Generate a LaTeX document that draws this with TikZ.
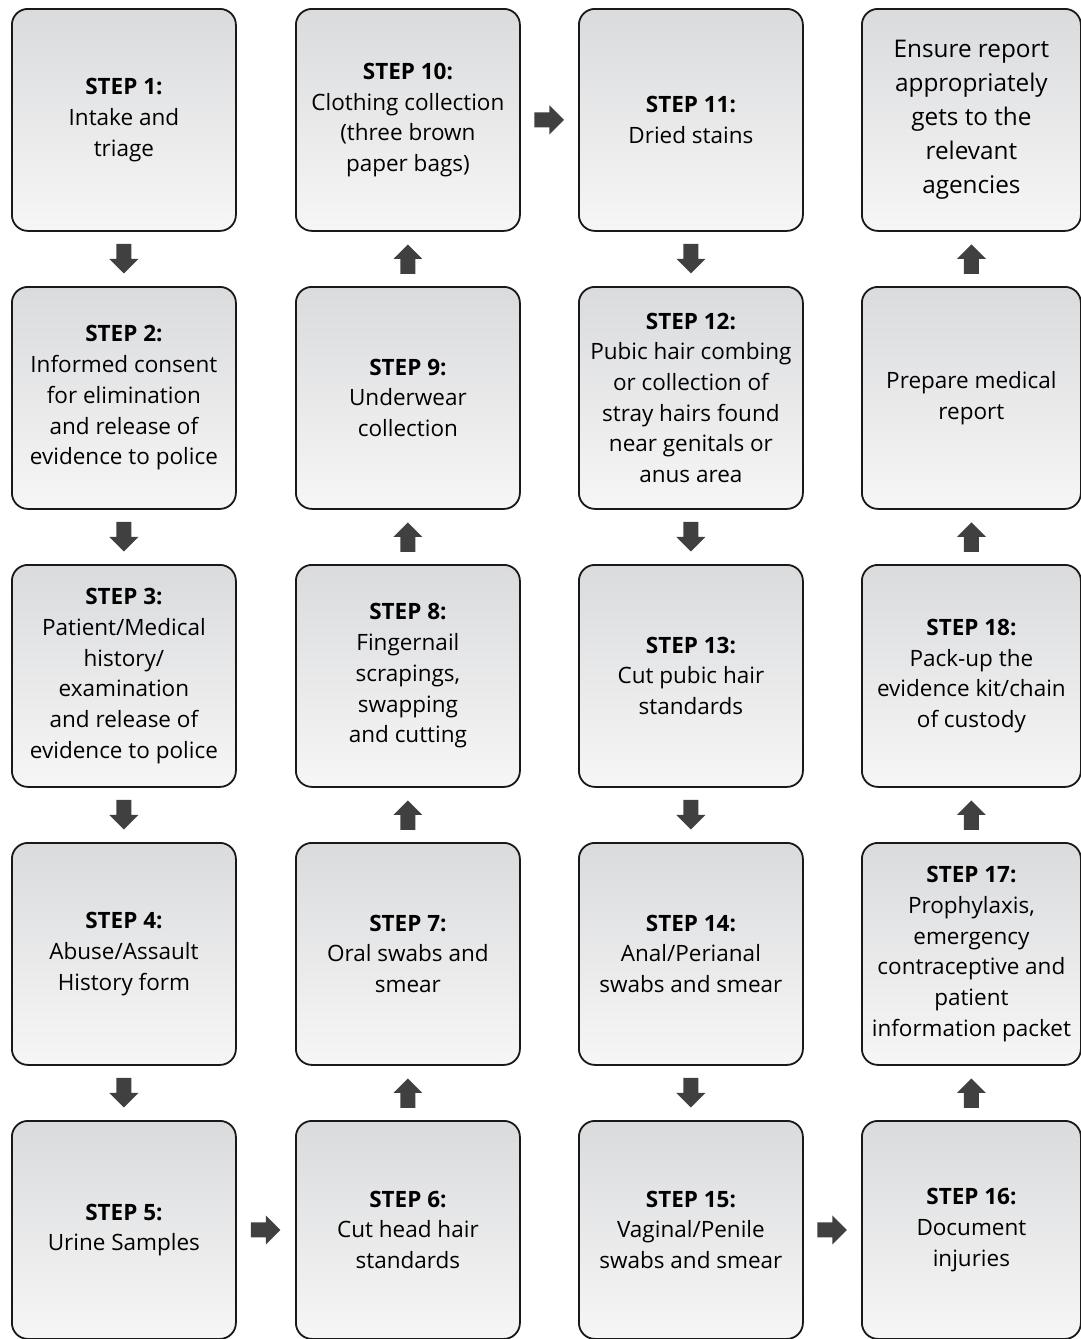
\documentclass[tikz,border=0pt]{standalone}
\usepackage{fontspec}
\setmainfont{Open Sans}
\usetikzlibrary{calc}
\definecolor{boxtop}{RGB}{218,219,221}
\definecolor{boxbot}{RGB}{246,246,246}
\definecolor{arr}{RGB}{64,64,64}
\begin{document}
\begin{tikzpicture}[x=1pt,y=-1pt,
  stepbox/.style={draw=black!90, line width=1.8pt, rounded corners=16pt,
    top color=boxtop, bottom color=boxbot, minimum width=224pt,
    minimum height=222pt, inner sep=0pt, align=center,
    font=\fontsize{22.5}{30.7}\selectfont, anchor=north west},
  lastcol/.style={minimum width=219pt},
  lastrow/.style={minimum height=218pt},
  barrow/.pic={\fill[arr] (-15,-7.5) -- (0,-7.5) -- (0,-14.5) -- (14.5,0)
    -- (0,14.5) -- (0,7.5) -- (-15,7.5) -- cycle;}
]
\useasboundingbox (0,0) rectangle (1081,1339);
% column 1
\node[stepbox] (s1) at (11,8) {\textbf{STEP 1:}\\Intake and\\triage};
\node[stepbox] (s2) at (11,286) {\textbf{STEP 2:}\\Informed consent\\for elimination\\and release of\\evidence to police};
\node[stepbox] (s3) at (11,564) {\textbf{STEP 3:}\\Patient/Medical\\history/\\examination\\and release of\\evidence to police};
\node[stepbox] (s4) at (11,842) {\textbf{STEP 4:}\\Abuse/Assault\\History form};
\node[stepbox,lastrow] (s5) at (11,1120) {\textbf{STEP 5:}\\Urine Samples};
% column 2
\node[stepbox,lastrow] (s6) at (295,1120) {\textbf{STEP 6:}\\Cut head hair\\standards};
\node[stepbox] (s7) at (295,842) {\textbf{STEP 7:}\\Oral swabs and\\smear};
\node[stepbox] (s8) at (295,564) {\textbf{STEP 8:}\\Fingernail\\scrapings,\\swapping\\and cutting};
\node[stepbox] (s9) at (295,286) {\textbf{STEP 9:}\\Underwear\\collection};
\node[stepbox] (s10) at (295,8) {\textbf{STEP 10:}\\Clothing collection\\(three brown\\paper bags)};
% column 3
\node[stepbox] (s11) at (578,8) {\textbf{STEP 11:}\\Dried stains};
\node[stepbox] (s12) at (578,286) {\textbf{STEP 12:}\\Pubic hair combing\\or collection of\\stray hairs found\\near genitals or\\anus area};
\node[stepbox] (s13) at (578,564) {\textbf{STEP 13:}\\Cut pubic hair\\standards};
\node[stepbox] (s14) at (578,842) {\textbf{STEP 14:}\\Anal/Perianal\\swabs and smear};
\node[stepbox,lastrow] (s15) at (578,1120) {\textbf{STEP 15:}\\Vaginal/Penile\\swabs and smear};
% column 4
\node[stepbox,lastcol,lastrow] (s16) at (861,1120) {\textbf{STEP 16:}\\Document\\injuries};
\node[stepbox,lastcol] (s17) at (861,842) {\textbf{STEP 17:}\\Prophylaxis,\\emergency\\contraceptive and\\patient\\information packet};
\node[stepbox,lastcol] (s18) at (861,564) {\textbf{STEP 18:}\\Pack-up the\\evidence kit/chain\\of custody};
\node[stepbox,lastcol] (s19) at (861,286) {Prepare medical\\report};
\node[stepbox,lastcol,font=\fontsize{24.3}{34}\selectfont] (s20) at (861,8) {Ensure report\\appropriately\\gets to the\\relevant\\agencies};
% arrows
\foreach \a/\b in {s1/s2,s2/s3,s3/s4,s4/s5,s11/s12,s12/s13,s13/s14,s14/s15}
  \pic[rotate=-90] at ($(\a.south)!0.5!(\b.north)$) {barrow};
\foreach \a/\b in {s6/s7,s7/s8,s8/s9,s9/s10,s16/s17,s17/s18,s18/s19,s19/s20}
  \pic[rotate=90] at ($(\a.north)!0.5!(\b.south)$) {barrow};
\foreach \a/\b in {s5/s6,s10/s11,s15/s16}
  \pic at ($(\a.east)!0.5!(\b.west)$) {barrow};
\end{tikzpicture}
\end{document}
